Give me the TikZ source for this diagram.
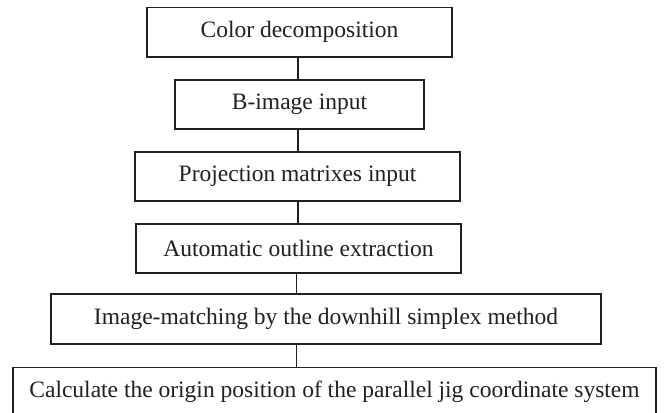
\documentclass[tikz,border=0pt]{standalone}
\usepackage{fontspec}
\setmainfont{Liberation Serif}
\begin{document}
\begin{tikzpicture}[x=1pt,y=-1pt,
  stepbox/.style={draw=ink, line width=1.5pt, rectangle, inner sep=0pt,
    minimum height=49pt, font=\fontsize{23.5pt}{26pt}\selectfont, text=ink},
  link/.style={draw=ink, line width=1.5pt}]
\definecolor{ink}{HTML}{231F20}
\useasboundingbox (0,0) rectangle (666,412);
% process steps, top to bottom
\node[stepbox, minimum width=305pt, minimum height=49.5pt] (b1) at (299.5,32.25) {Color decomposition};
\node[stepbox, minimum width=249pt] (b2) at (299.5,104.5) {B-image input};
\node[stepbox, minimum width=325pt] (b3) at (297.5,176.5) {Projection matrixes input};
\node[stepbox, minimum width=325pt] (b4) at (298.5,248.5) {Automatic outline extraction};
\node[stepbox, minimum width=550pt, minimum height=50pt] (b5) at (326,319) {Image-matching by the downhill simplex method};
% last step runs past the lower page edge
\node[stepbox, minimum width=643pt] (b6) at (334.5,392) {Calculate the origin position of the parallel jig coordinate system};
% vertical spine joining the steps
\coordinate (spineA) at (298,0);
\coordinate (spineB) at (296.5,0);
\draw[link] (b1.south -| spineA) -- (b2.north -| spineA);
\draw[link] (b2.south -| spineA) -- (b3.north -| spineA);
\draw[link] (b3.south -| spineA) -- (b4.north -| spineA);
\draw[link] (b4.south -| spineB) -- (b5.north -| spineB);
\draw[link] (b5.south -| spineB) -- (b6.north -| spineB);
\end{tikzpicture}
\end{document}
